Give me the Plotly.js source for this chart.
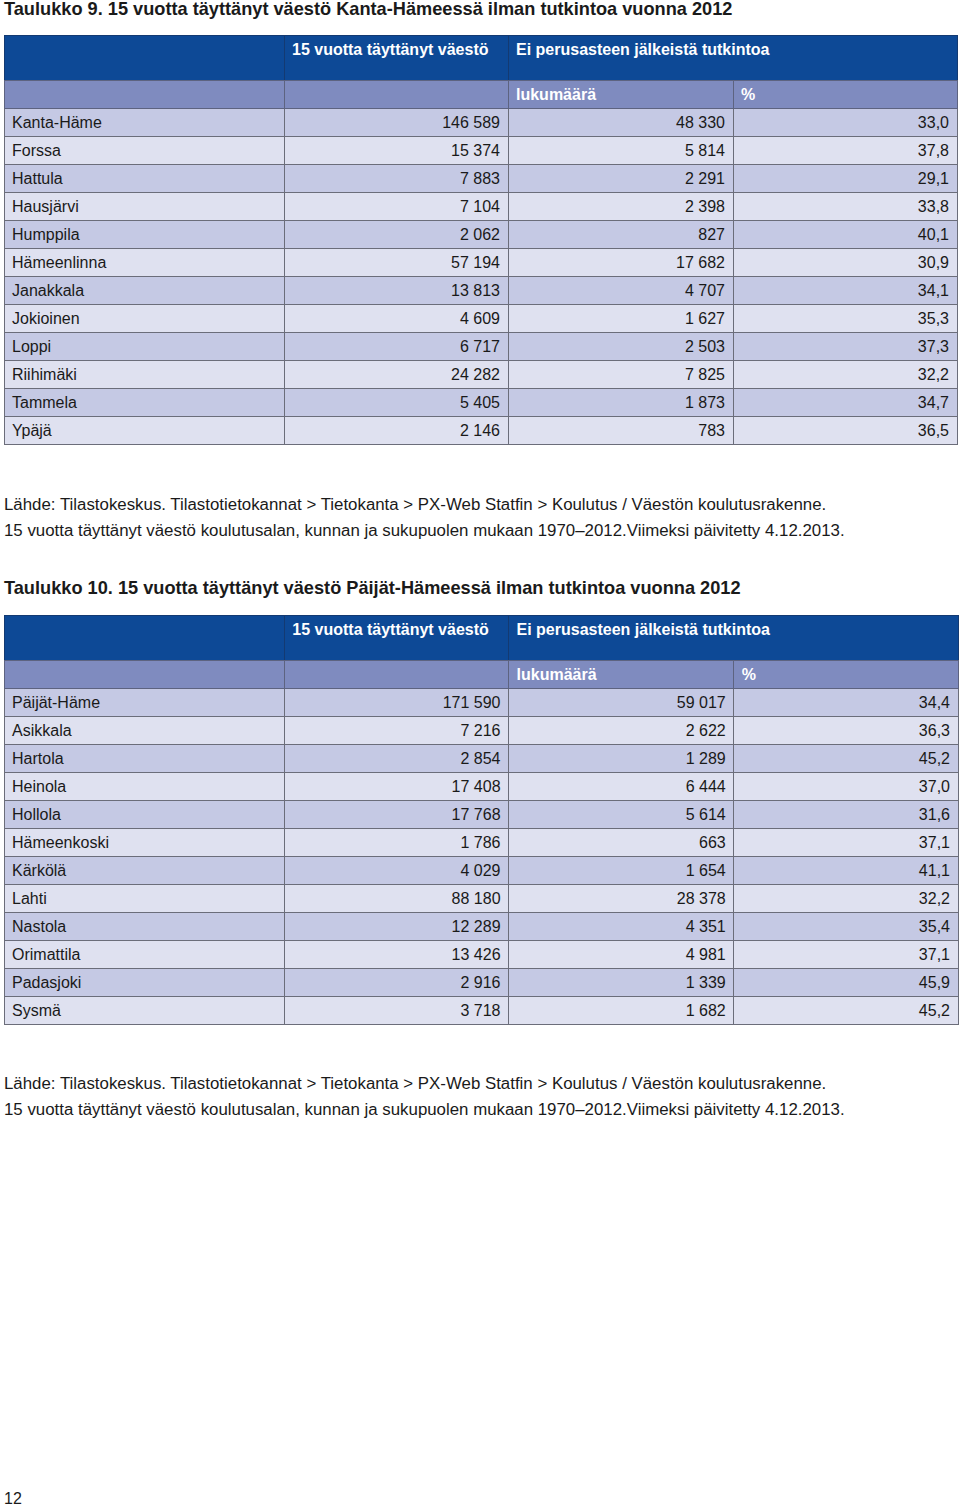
<!DOCTYPE html>
<html>
<head>
<meta charset="utf-8">
<script src="https://cdn.plot.ly/plotly-3.0.1.min.js"></script>
<style>
  body { margin: 0; background: #fff; }
  #plot { width: 960px; height: 1509px; }
</style>
</head>
<body>
<div id="plot"></div>
<script>
// Taulukko 9 - Kanta-Häme
var kunnat1 = ['Kanta-Häme', 'Forssa', 'Hattula', 'Hausjärvi', 'Humppila', 'Hämeenlinna',
  'Janakkala', 'Jokioinen', 'Loppi', 'Riihimäki', 'Tammela', 'Ypäjä'];
var vaesto1 = [146589, 15374, 7883, 7104, 2062, 57194, 13813, 4609, 6717, 24282, 5405, 2146];
var lukumaara1 = [48330, 5814, 2291, 2398, 827, 17682, 4707, 1627, 2503, 7825, 1873, 783];
var prosentti1 = [33.0, 37.8, 29.1, 33.8, 40.1, 30.9, 34.1, 35.3, 37.3, 32.2, 34.7, 36.5];

// Taulukko 10 - Päijät-Häme
var kunnat2 = ['Päijät-Häme', 'Asikkala', 'Hartola', 'Heinola', 'Hollola', 'Hämeenkoski',
  'Kärkölä', 'Lahti', 'Nastola', 'Orimattila', 'Padasjoki', 'Sysmä'];
var vaesto2 = [171590, 7216, 2854, 17408, 17768, 1786, 4029, 88180, 12289, 13426, 2916, 3718];
var lukumaara2 = [59017, 2622, 1289, 6444, 5614, 663, 1654, 28378, 4351, 4981, 1339, 1682];
var prosentti2 = [34.4, 36.3, 45.2, 37.0, 31.6, 37.1, 41.1, 32.2, 35.4, 37.1, 45.9, 45.2];

var ylaotsikot = ['', '15 vuotta täyttänyt väestö', 'Ei perusasteen jälkeistä tutkintoa'];
var alaotsikot = ['', '', 'lukumäärä', '%'];

var W = 960, H = 1509;
var FONT = 'Liberation Sans, Arial, sans-serif';

function luku(n) { return String(n).replace(/\B(?=(\d{3})+(?!\d))/g, ' '); }
function pros(p) { return p.toFixed(1).replace('.', ','); }
function py(px) { return 1 - px / H; }
function pxx(px) { return px / W; }

function rivivarit(n) {
  var c = [];
  for (var i = 0; i < n; i++) c.push(i % 2 === 0 ? '#c5c9e4' : '#dfe1f0');
  return c;
}

function taulukko(top, left, right, kunnat, vaesto, lkm, pct) {
  var varit = rivivarit(kunnat.length);
  var ylakaista = {
    type: 'table',
    domain: { x: [pxx(left), pxx(right)], y: [py(top + 46), py(top)] },
    columnwidth: [280, 224, 449],
    header: {
      values: ylaotsikot,
      height: 45,
      align: 'left',
      fill: { color: '#0d4996' },
      line: { color: '#133a72', width: 1 },
      font: { family: FONT, size: 16, color: '#ffffff', weight: 'bold' }
    },
    cells: { values: [[], [], []], height: 0 }
  };
  var paa = {
    type: 'table',
    domain: { x: [pxx(left), pxx(right)], y: [py(top + 45 + 28 * 14), py(top + 45)] },
    columnwidth: [280, 224, 225, 224],
    header: {
      values: alaotsikot,
      height: 28,
      align: 'left',
      fill: { color: '#7f8bbf' },
      line: { color: '#5d6380', width: 1 },
      font: { family: FONT, size: 16, color: '#ffffff', weight: 'bold' }
    },
    cells: {
      values: [kunnat, vaesto.map(luku), lkm.map(luku), pct.map(pros)],
      height: 28,
      align: ['left', 'right', 'right', 'right'],
      fill: { color: [varit, varit, varit, varit] },
      line: { color: '#6b6d7a', width: 1 },
      font: { family: FONT, size: 16, color: '#1a1a1a' }
    }
  };
  return [ylakaista, paa];
}

var data = [].concat(
  taulukko(35, 4, 957, kunnat1, vaesto1, lukumaara1, prosentti1),
  taulukko(615, 4, 958, kunnat2, vaesto2, lukumaara2, prosentti2)
);

var lahde1 = 'Lähde: Tilastokeskus. Tilastotietokannat > Tietokanta > PX-Web Statfin > Koulutus / Väestön koulutusrakenne.';
var lahde2 = '15 vuotta täyttänyt väestö koulutusalan, kunnan ja sukupuolen mukaan 1970–2012.Viimeksi päivitetty 4.12.2013.';

function teksti(y, txt, koko, bold) {
  return {
    xref: 'paper', yref: 'paper', x: pxx(2), y: py(y),
    xanchor: 'left', yanchor: 'middle', showarrow: false,
    text: bold ? '<b>' + txt + '</b>' : txt,
    font: { family: FONT, size: koko, color: '#1a1a1a' }
  };
}

var layout = {
  width: W, height: H,
  margin: { l: 0, r: 0, t: 0, b: 0 },
  paper_bgcolor: '#ffffff',
  showlegend: false,
  annotations: [
    teksti(9, 'Taulukko 9. 15 vuotta täyttänyt väestö Kanta-Hämeessä ilman tutkintoa vuonna 2012', 18.2, true),
    teksti(505, lahde1, 16.85), teksti(531, lahde2, 16.85),
    teksti(588, 'Taulukko 10. 15 vuotta täyttänyt väestö Päijät-Hämeessä ilman tutkintoa vuonna 2012', 18.2, true),
    teksti(1083, lahde1, 16.85), teksti(1109, lahde2, 16.85),
    teksti(1498, '12', 16)
  ]
};

Plotly.newPlot('plot', data, layout, { displayModeBar: false, staticPlot: true });
</script>
</body>
</html>
